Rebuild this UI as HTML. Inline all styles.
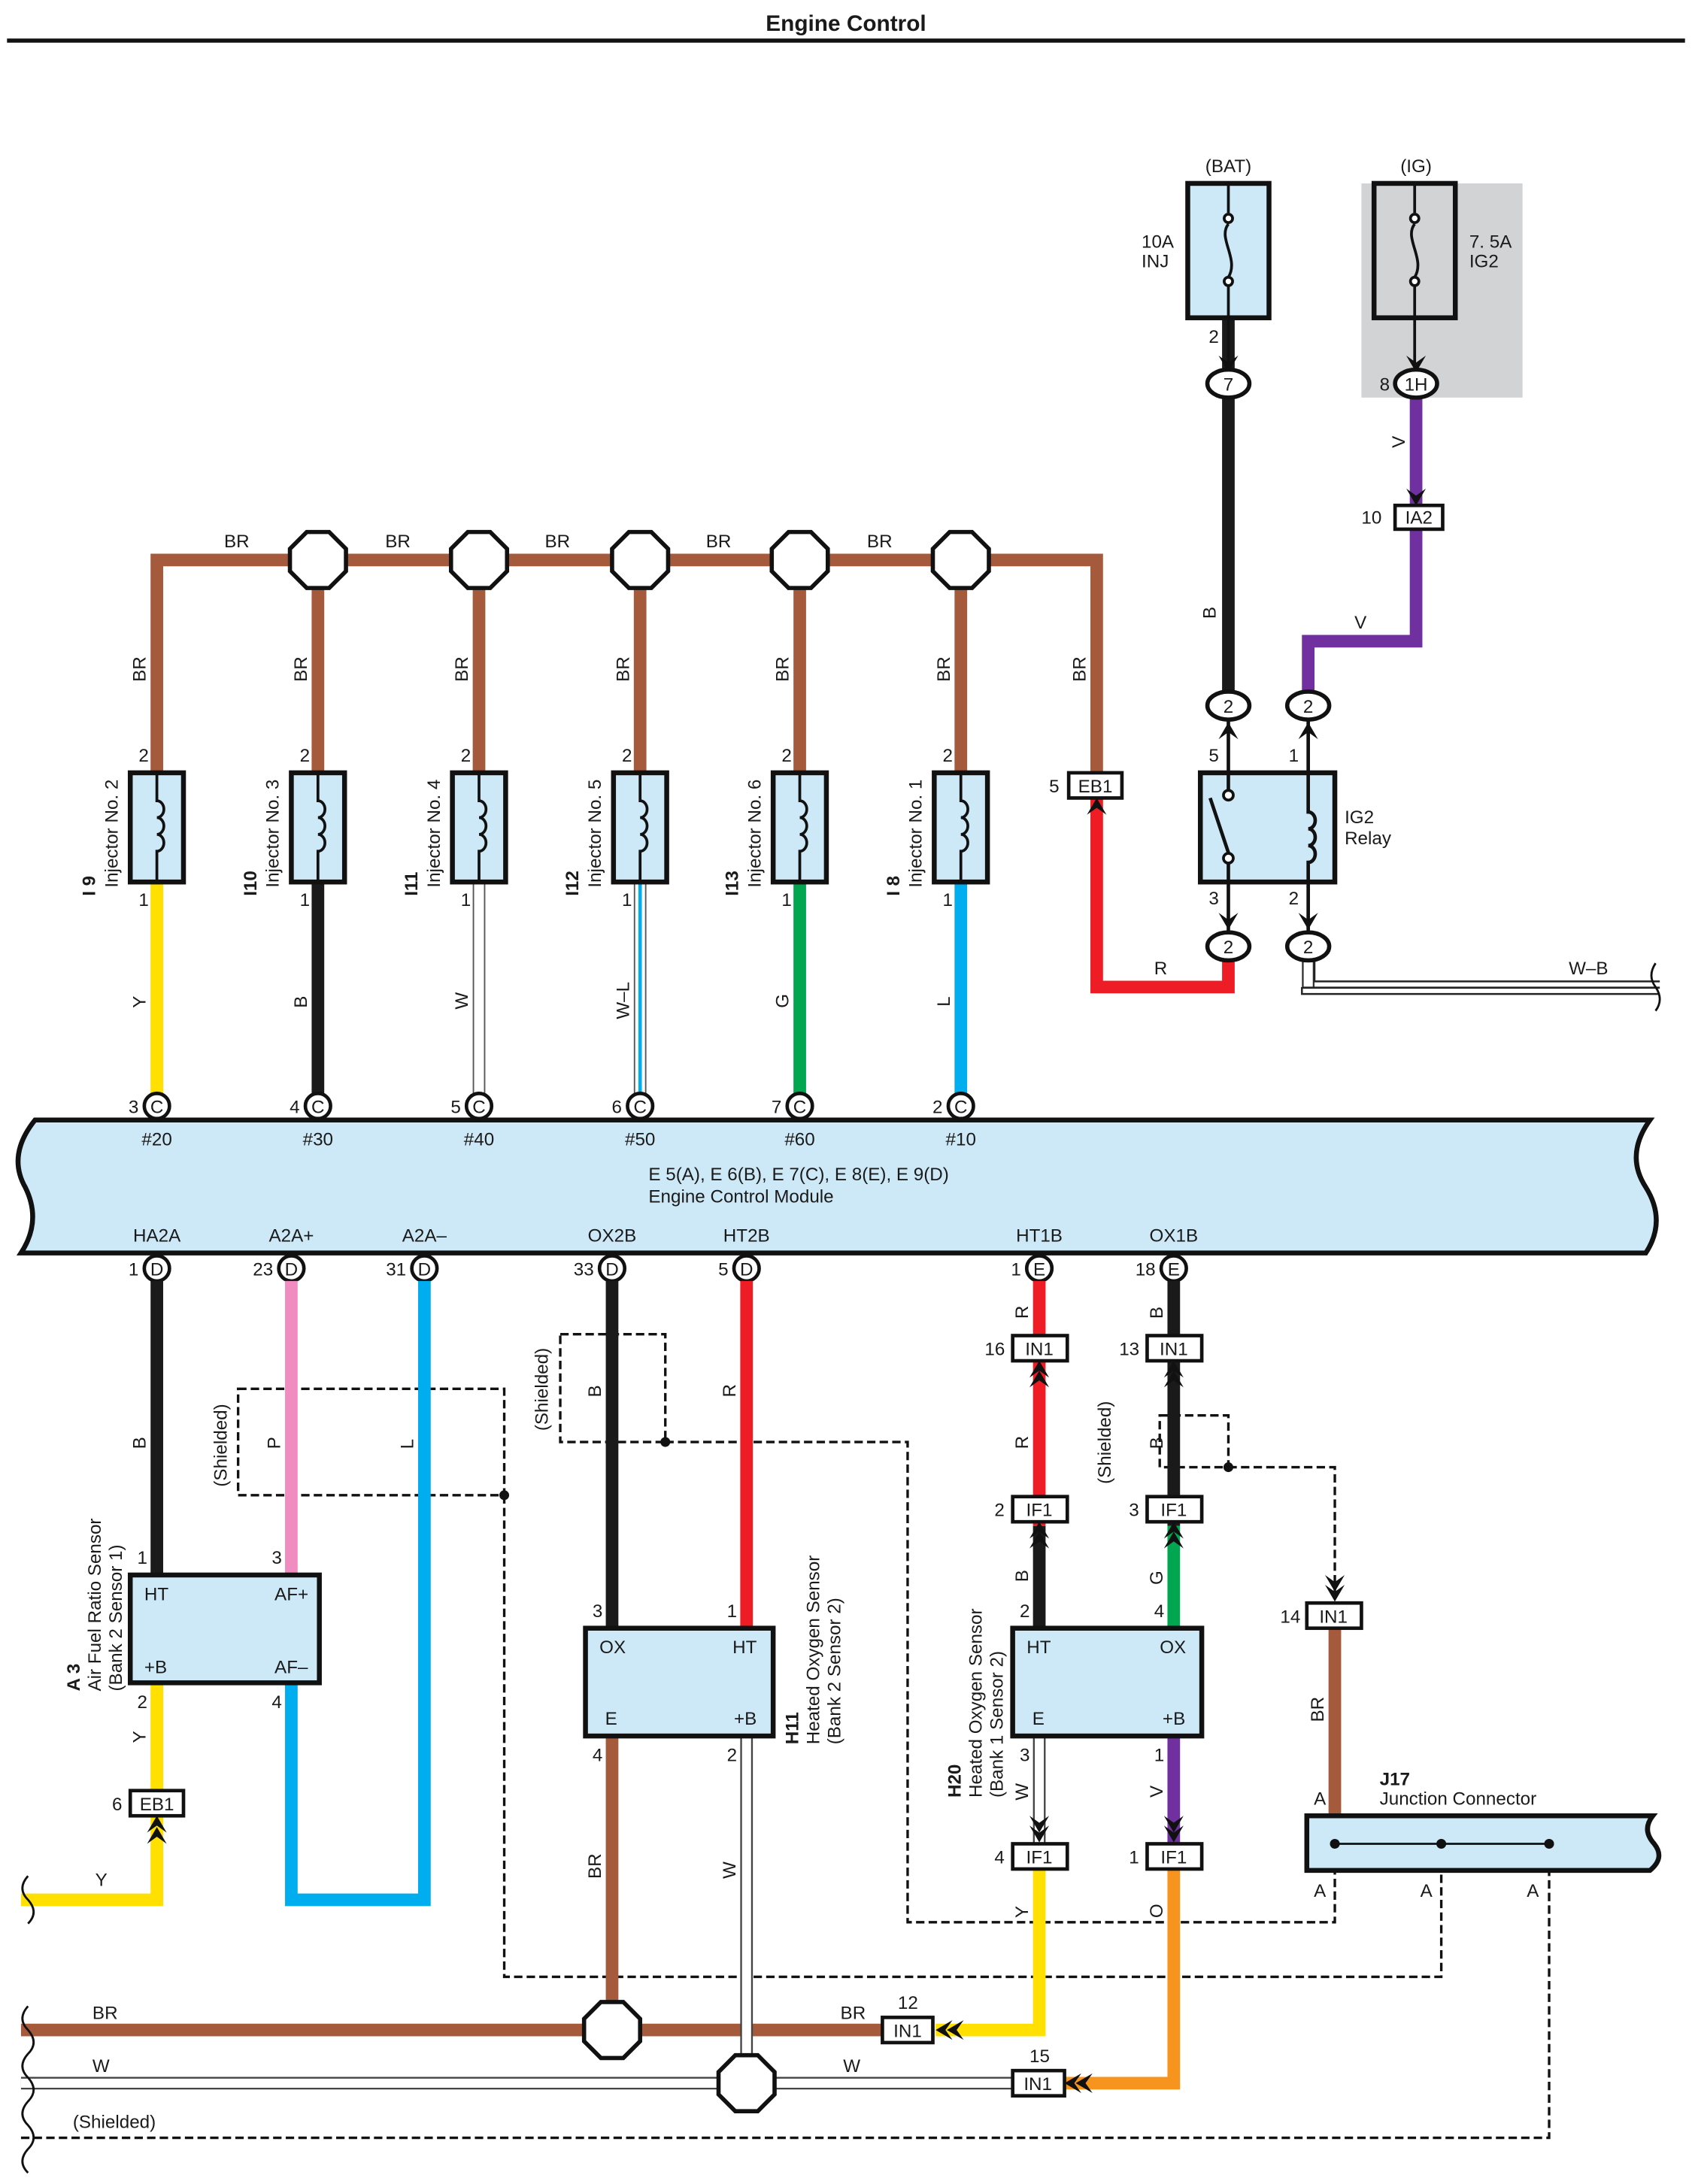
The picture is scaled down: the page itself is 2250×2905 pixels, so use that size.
<!DOCTYPE html>
<html><head><meta charset="utf-8"><style>
html,body{margin:0;padding:0;background:#fff}
svg{display:block}
text{font-family:"Liberation Sans",sans-serif;font-size:13px;fill:#1a1a1a}
</style></head><body>
<svg width="2250" height="2905" viewBox="0 0 1208 1560" preserveAspectRatio="none" xmlns="http://www.w3.org/2000/svg">
<defs>
<polygon id="cu" points="-7,12 0,0 7,12 0,7" fill="#111"/>
<polygon id="cd" points="-7,-12 0,0 7,-12 0,-7" fill="#111"/>
</defs>
<text x="604" y="22" text-anchor="middle" style="font-weight:bold;font-size:16px">Engine Control</text>
<line x1="5" y1="29" x2="1203" y2="29" stroke="#111" stroke-width="3"/>

<!-- grey IG background -->
<rect x="972" y="131" width="115" height="153" fill="#d1d3d4"/>

<!-- BR bus -->
<g stroke="#a65a3c" stroke-width="9" fill="none">
<polyline points="112,552 112,400 783,400 783,552"/>
<line x1="227" y1="400" x2="227" y2="552"/><line x1="342" y1="400" x2="342" y2="552"/>
<line x1="457" y1="400" x2="457" y2="552"/><line x1="571" y1="400" x2="571" y2="552"/>
<line x1="686" y1="400" x2="686" y2="552"/>
</g>
<g fill="#fff" stroke="#111" stroke-width="3">
<polygon points="219,380 235,380 247,392 247,408 235,420 219,420 207,408 207,392"/>
<polygon points="334,380 350,380 362,392 362,408 350,420 334,420 322,408 322,392"/>
<polygon points="449,380 465,380 477,392 477,408 465,420 449,420 437,408 437,392"/>
<polygon points="563,380 579,380 591,392 591,408 579,420 563,420 551,408 551,392"/>
<polygon points="678,380 694,380 706,392 706,408 694,420 678,420 666,408 666,392"/>
</g>
<g>
<text x="160" y="391">BR</text><text x="275" y="391">BR</text><text x="389" y="391">BR</text><text x="504" y="391">BR</text><text x="619" y="391">BR</text>
<text transform="translate(104,487) rotate(-90)">BR</text><text transform="translate(219,487) rotate(-90)">BR</text>
<text transform="translate(334,487) rotate(-90)">BR</text><text transform="translate(449,487) rotate(-90)">BR</text>
<text transform="translate(563,487) rotate(-90)">BR</text><text transform="translate(678,487) rotate(-90)">BR</text>
<text transform="translate(775,487) rotate(-90)">BR</text>
</g>

<!-- injector wires to ECM -->
<line x1="112" y1="630" x2="112" y2="790" stroke="#ffe000" stroke-width="9"/>
<line x1="227" y1="630" x2="227" y2="790" stroke="#1a1a1a" stroke-width="9"/>
<line x1="342" y1="630" x2="342" y2="790" stroke="#555" stroke-width="9"/><line x1="342" y1="630" x2="342" y2="790" stroke="#fff" stroke-width="7"/>
<line x1="457" y1="630" x2="457" y2="790" stroke="#555" stroke-width="9"/><line x1="457" y1="630" x2="457" y2="790" stroke="#fff" stroke-width="7"/><line x1="457" y1="630" x2="457" y2="790" stroke="#00aeef" stroke-width="2.5"/>
<line x1="571" y1="630" x2="571" y2="790" stroke="#00a650" stroke-width="9"/>
<line x1="686" y1="630" x2="686" y2="790" stroke="#00aeef" stroke-width="9"/>
<g>
<text transform="translate(104,720) rotate(-90)">Y</text><text transform="translate(219,720) rotate(-90)">B</text>
<text transform="translate(334,721) rotate(-90)">W</text><text transform="translate(449,728) rotate(-90)">W–L</text>
<text transform="translate(563,720) rotate(-90)">G</text><text transform="translate(678,719) rotate(-90)">L</text>
</g>

<!-- injectors -->
<g fill="#cde9f7" stroke="#111" stroke-width="3.5">
<rect x="93" y="552" width="38" height="78"/><rect x="208" y="552" width="38" height="78"/>
<rect x="323" y="552" width="38" height="78"/><rect x="438" y="552" width="38" height="78"/>
<rect x="552" y="552" width="38" height="78"/><rect x="667" y="552" width="38" height="78"/>
</g>
<g fill="none" stroke="#111" stroke-width="2">
<path d="M112 552 V572 a5 6 0 1 1 0 12 a5 6 0 1 1 0 12 a5 6 0 1 1 0 12 V630"/>
<path d="M227 552 V572 a5 6 0 1 1 0 12 a5 6 0 1 1 0 12 a5 6 0 1 1 0 12 V630"/>
<path d="M342 552 V572 a5 6 0 1 1 0 12 a5 6 0 1 1 0 12 a5 6 0 1 1 0 12 V630"/>
<path d="M457 552 V572 a5 6 0 1 1 0 12 a5 6 0 1 1 0 12 a5 6 0 1 1 0 12 V630"/>
<path d="M571 552 V572 a5 6 0 1 1 0 12 a5 6 0 1 1 0 12 a5 6 0 1 1 0 12 V630"/>
<path d="M686 552 V572 a5 6 0 1 1 0 12 a5 6 0 1 1 0 12 a5 6 0 1 1 0 12 V630"/>
</g>
<g>
<text x="99" y="544">2</text><text x="214" y="544">2</text><text x="329" y="544">2</text><text x="444" y="544">2</text><text x="558" y="544">2</text><text x="673" y="544">2</text>
<text x="99" y="647">1</text><text x="214" y="647">1</text><text x="329" y="647">1</text><text x="444" y="647">1</text><text x="558" y="647">1</text><text x="673" y="647">1</text>
<text transform="translate(68,640) rotate(-90)" style="font-weight:bold">I 9</text><text transform="translate(84,634) rotate(-90)">Injector No. 2</text>
<text transform="translate(183,640) rotate(-90)" style="font-weight:bold">I10</text><text transform="translate(199,634) rotate(-90)">Injector No. 3</text>
<text transform="translate(298,640) rotate(-90)" style="font-weight:bold">I11</text><text transform="translate(314,634) rotate(-90)">Injector No. 4</text>
<text transform="translate(413,640) rotate(-90)" style="font-weight:bold">I12</text><text transform="translate(429,634) rotate(-90)">Injector No. 5</text>
<text transform="translate(527,640) rotate(-90)" style="font-weight:bold">I13</text><text transform="translate(543,634) rotate(-90)">Injector No. 6</text>
<text transform="translate(642,640) rotate(-90)" style="font-weight:bold">I 8</text><text transform="translate(658,634) rotate(-90)">Injector No. 1</text>
</g>

<!-- ECM -->
<path d="M25,800 H1178 Q1160,825 1175,848 Q1190,872 1175,895 H15 Q30,872 18,848 Q5,825 25,800 Z" fill="#cde9f7" stroke="#111" stroke-width="3.5"/>
<g fill="#fff" stroke="#111" stroke-width="2.5">
<circle cx="112" cy="790" r="9"/><circle cx="227" cy="790" r="9"/><circle cx="342" cy="790" r="9"/><circle cx="457" cy="790" r="9"/><circle cx="571" cy="790" r="9"/><circle cx="686" cy="790" r="9"/>
<circle cx="112" cy="906" r="9"/><circle cx="208" cy="906" r="9"/><circle cx="303" cy="906" r="9"/><circle cx="437" cy="906" r="9"/><circle cx="533" cy="906" r="9"/><circle cx="742" cy="906" r="9"/><circle cx="838" cy="906" r="9"/>
</g>
<g text-anchor="middle" style="font-size:12px">
<text x="112" y="795">C</text><text x="227" y="795">C</text><text x="342" y="795">C</text><text x="457" y="795">C</text><text x="571" y="795">C</text><text x="686" y="795">C</text>
<text x="112" y="911">D</text><text x="208" y="911">D</text><text x="303" y="911">D</text><text x="437" y="911">D</text><text x="533" y="911">D</text><text x="742" y="911">E</text><text x="838" y="911">E</text>
</g>
<g text-anchor="end">
<text x="99" y="795">3</text><text x="214" y="795">4</text><text x="329" y="795">5</text><text x="444" y="795">6</text><text x="558" y="795">7</text><text x="673" y="795">2</text>
<text x="99" y="911">1</text><text x="195" y="911">23</text><text x="290" y="911">31</text><text x="424" y="911">33</text><text x="520" y="911">5</text><text x="729" y="911">1</text><text x="825" y="911">18</text>
</g>
<g text-anchor="middle">
<text x="112" y="818">#20</text><text x="227" y="818">#30</text><text x="342" y="818">#40</text><text x="457" y="818">#50</text><text x="571" y="818">#60</text><text x="686" y="818">#10</text>
<text x="112" y="887">HA2A</text><text x="208" y="887">A2A+</text><text x="303" y="887">A2A–</text><text x="437" y="887">OX2B</text><text x="533" y="887">HT2B</text><text x="742" y="887">HT1B</text><text x="838" y="887">OX1B</text>
</g>
<text x="463" y="843">E 5(A), E 6(B), E 7(C), E 8(E), E 9(D)</text>
<text x="463" y="859">Engine Control Module</text>

<!-- BAT fuse -->
<text x="877" y="123" text-anchor="middle">(BAT)</text>
<text x="1011" y="123" text-anchor="middle">(IG)</text>
<line x1="877" y1="227" x2="877" y2="504" stroke="#1a1a1a" stroke-width="9"/>
<rect x="848" y="131" width="58" height="96" fill="#cde9f7" stroke="#111" stroke-width="3.5"/>
<rect x="981" y="131" width="58" height="96" fill="#d1d3d4" stroke="#111" stroke-width="3.5"/>
<g fill="none" stroke="#111" stroke-width="2">
<path d="M877 131 V152 M877 204 V227 M877 160 c-8 10 8 25 0 38"/>
<path d="M877 227 V262"/>
<path d="M1010 131 V152 M1010 204 V227 M1010 160 c-8 10 8 25 0 38"/>
<path d="M1010 227 V262"/>
</g>
<g fill="#fff" stroke="#111" stroke-width="2"><circle cx="877" cy="156" r="3"/><circle cx="877" cy="201" r="3"/><circle cx="1010" cy="156" r="3"/><circle cx="1010" cy="201" r="3"/></g>
<use href="#cd" x="877" y="266"/><use href="#cd" x="1011" y="266"/>
<text x="815" y="177">10A</text><text x="815" y="191">INJ</text>
<text x="1049" y="177">7. 5A</text><text x="1049" y="191">IG2</text>
<text x="863" y="245">2</text><text x="985" y="279">8</text>
<polyline points="1011,284 1011,458 934,458 934,504" fill="none" stroke="#7030a0" stroke-width="9"/>
<use href="#cd" x="1011" y="361"/>
<rect x="996" y="361" width="34" height="17" fill="#fff" stroke="#111" stroke-width="2.5"/>
<text x="1013" y="374" text-anchor="middle">IA2</text><text x="972" y="374">10</text>
<text transform="translate(1003,320) rotate(-90)">V</text><text x="967" y="449">V</text>
<text transform="translate(868,442) rotate(-90)">B</text>
<ellipse cx="877" cy="274" rx="15" ry="10" fill="#fff" stroke="#111" stroke-width="3"/><text x="877" y="279" text-anchor="middle">7</text>
<ellipse cx="1011" cy="274" rx="15" ry="10" fill="#fff" stroke="#111" stroke-width="3"/><text x="1011" y="279" text-anchor="middle">1H</text>

<!-- relay -->
<polyline points="877,676 877,705 783,705 783,561" fill="none" stroke="#ee1c25" stroke-width="9"/>
<line x1="934" y1="676" x2="934" y2="705" stroke="#333" stroke-width="9"/><line x1="934" y1="676" x2="934" y2="705" stroke="#fff" stroke-width="6.5"/>
<path d="M929.5 705 V710 H1185 M938.5 676 V701 H1185" stroke="#222" stroke-width="1.3" fill="none"/>
<line x1="930" y1="705.5" x2="1185" y2="705.5" stroke="#222" stroke-width="1.5"/>
<path d="M1182 688 q-6 9 0 17 q6 9 0 17" fill="none" stroke="#111" stroke-width="1.5"/>
<text x="1120" y="696">W–B</text><text x="824" y="696">R</text>
<g stroke="#111" stroke-width="2.5" fill="none">
<line x1="877" y1="514" x2="877" y2="666"/><line x1="934" y1="514" x2="934" y2="666"/>
</g>
<use href="#cu" x="877" y="516"/><use href="#cu" x="934" y="516"/>
<use href="#cd" x="877" y="664"/><use href="#cd" x="934" y="664"/>
<rect x="857" y="552" width="96" height="78" fill="#cde9f7" stroke="#111" stroke-width="3.5"/>
<g stroke="#111" stroke-width="2.5" fill="none">
<line x1="877" y1="552" x2="877" y2="565"/><line x1="877" y1="615" x2="877" y2="630"/>
<line x1="864" y1="570" x2="878" y2="612"/>
<path d="M934 552 V580 a5 6 0 1 1 0 12 a5 6 0 1 1 0 12 a5 6 0 1 1 0 12 V630"/>
</g>
<g fill="#fff" stroke="#111" stroke-width="2"><circle cx="877" cy="568" r="3.5"/><circle cx="877" cy="613" r="3.5"/></g>
<text x="960" y="588">IG2</text><text x="960" y="603">Relay</text>
<text x="863" y="544">5</text><text x="920" y="544">1</text><text x="863" y="646">3</text><text x="920" y="646">2</text>
<g fill="#fff" stroke="#111" stroke-width="3">
<ellipse cx="877" cy="504" rx="15" ry="10"/><ellipse cx="934" cy="504" rx="15" ry="10"/>
<ellipse cx="877" cy="676" rx="15" ry="10"/><ellipse cx="934" cy="676" rx="15" ry="10"/>
</g>
<g text-anchor="middle"><text x="877" y="509">2</text><text x="934" y="509">2</text><text x="877" y="681">2</text><text x="934" y="681">2</text></g>
<use href="#cu" x="783" y="570"/>
<rect x="763" y="552" width="38" height="18" fill="#fff" stroke="#111" stroke-width="2.5"/>
<text x="782" y="566" text-anchor="middle">EB1</text><text x="749" y="566">5</text>

<!-- lower dashed shield lines -->
<g fill="none" stroke="#111" stroke-width="1.8" stroke-dasharray="6,3">
<rect x="170" y="992" width="190" height="76"/>
<polyline points="360,1068 360,1412 1029,1412 1029,1317"/>
<rect x="400" y="953" width="75" height="77"/>
<polyline points="475,1030 648,1030 648,1373 953,1373 953,1317"/>
<rect x="828" y="1011" width="49" height="37"/>
<polyline points="877,1048 953,1048 953,1140"/>
<polyline points="15,1527 1106,1527 1106,1317"/>
</g>
<g fill="#111"><circle cx="360" cy="1068" r="3.5"/><circle cx="475" cy="1030" r="3.5"/><circle cx="877" cy="1048" r="3.5"/></g>
<text transform="translate(162,1062) rotate(-90)">(Shielded)</text>
<text transform="translate(391,1022) rotate(-90)">(Shielded)</text>
<text transform="translate(793,1060) rotate(-90)">(Shielded)</text>
<text x="52" y="1520">(Shielded)</text>

<!-- A3 wires -->
<line x1="112" y1="915" x2="112" y2="1125" stroke="#1a1a1a" stroke-width="9"/>
<line x1="208" y1="915" x2="208" y2="1125" stroke="#f08cbf" stroke-width="9"/>
<polyline points="303,915 303,1357 208,1357 208,1202" fill="none" stroke="#00aeef" stroke-width="9"/>
<polyline points="112,1202 112,1357 15,1357" fill="none" stroke="#ffe000" stroke-width="9"/>
<path d="M20 1340 q-8 9 0 17 q8 9 0 17" fill="none" stroke="#111" stroke-width="1.5"/>
<text x="68" y="1347">Y</text>
<text transform="translate(104,1035) rotate(-90)">B</text><text transform="translate(200,1035) rotate(-90)">P</text>
<text transform="translate(295,1035) rotate(-90)">L</text><text transform="translate(104,1245) rotate(-90)">Y</text>
<use href="#cu" x="112" y="1297"/><use href="#cu" x="112" y="1305"/>
<rect x="93" y="1279" width="38" height="18" fill="#fff" stroke="#111" stroke-width="2.5"/>
<text x="112" y="1293" text-anchor="middle">EB1</text><text x="80" y="1293">6</text>
<rect x="93" y="1125" width="135" height="77" fill="#cde9f7" stroke="#111" stroke-width="3.5"/>
<text x="103" y="1143">HT</text><text x="196" y="1143">AF+</text><text x="103" y="1195">+B</text><text x="196" y="1195">AF–</text>
<text x="98" y="1117">1</text><text x="194" y="1117">3</text><text x="98" y="1220">2</text><text x="194" y="1220">4</text>
<text transform="translate(57,1208) rotate(-90)" style="font-weight:bold">A 3</text>
<text transform="translate(72,1208) rotate(-90)">Air Fuel Ratio Sensor</text>
<text transform="translate(87,1208) rotate(-90)">(Bank 2 Sensor 1)</text>

<!-- H11 -->
<line x1="437" y1="915" x2="437" y2="1163" stroke="#1a1a1a" stroke-width="9"/>
<line x1="533" y1="915" x2="533" y2="1163" stroke="#ee1c25" stroke-width="9"/>
<text transform="translate(429,998) rotate(-90)">B</text><text transform="translate(525,998) rotate(-90)">R</text>
<polyline points="15,1450 630,1450" stroke="#a65a3c" stroke-width="9" fill="none"/>
<line x1="437" y1="1240" x2="437" y2="1450" stroke="#a65a3c" stroke-width="9"/>
<line x1="533" y1="1240" x2="533" y2="1488" stroke="#444" stroke-width="9"/><line x1="533" y1="1240" x2="533" y2="1488" stroke="#fff" stroke-width="6.5"/>
<line x1="15" y1="1488" x2="723" y2="1488" stroke="#444" stroke-width="9"/><line x1="15" y1="1488" x2="723" y2="1488" stroke="#fff" stroke-width="6.5"/>
<g fill="none" stroke="#111" stroke-width="1.5">
<path d="M20 1433 q-8 9 0 17 q8 9 0 17 q-8 9 0 17 q8 9 0 17 q-8 9 0 17 q8 9 0 17 q-8 9 0 17"/>
</g>
<text x="66" y="1442">BR</text><text x="600" y="1442">BR</text><text x="66" y="1480">W</text><text x="602" y="1480">W</text>
<text transform="translate(429,1342) rotate(-90)">BR</text><text transform="translate(525,1342) rotate(-90)">W</text>
<g fill="#fff" stroke="#111" stroke-width="3">
<polygon points="429,1430 445,1430 457,1442 457,1458 445,1470 429,1470 417,1458 417,1442"/>
<polygon points="525,1468 541,1468 553,1480 553,1496 541,1508 525,1508 513,1496 513,1480"/>
</g>
<rect x="418" y="1163" width="134" height="77" fill="#cde9f7" stroke="#111" stroke-width="3.5"/>
<text x="428" y="1181">OX</text><text x="523" y="1181">HT</text><text x="432" y="1232">E</text><text x="524" y="1232">+B</text>
<text x="423" y="1155">3</text><text x="519" y="1155">1</text><text x="423" y="1258">4</text><text x="519" y="1258">2</text>
<text transform="translate(570,1246) rotate(-90)" style="font-weight:bold">H11</text>
<text transform="translate(585,1246) rotate(-90)">Heated Oxygen Sensor</text>
<text transform="translate(600,1246) rotate(-90)">(Bank 2 Sensor 2)</text>

<!-- H20 -->
<line x1="742" y1="915" x2="742" y2="1090" stroke="#ee1c25" stroke-width="9"/>
<line x1="742" y1="1090" x2="742" y2="1163" stroke="#1a1a1a" stroke-width="9"/>
<line x1="838" y1="915" x2="838" y2="1090" stroke="#1a1a1a" stroke-width="9"/>
<line x1="838" y1="1090" x2="838" y2="1163" stroke="#00a650" stroke-width="9"/>
<line x1="742" y1="1240" x2="742" y2="1318" stroke="#444" stroke-width="9"/><line x1="742" y1="1240" x2="742" y2="1318" stroke="#fff" stroke-width="6.5"/>
<line x1="838" y1="1240" x2="838" y2="1318" stroke="#7030a0" stroke-width="9"/>
<polyline points="742,1334 742,1450 668,1450" fill="none" stroke="#ffe000" stroke-width="9"/>
<polyline points="838,1334 838,1488 760,1488" fill="none" stroke="#f7941d" stroke-width="9"/>
<line x1="953" y1="1162" x2="953" y2="1297" stroke="#a65a3c" stroke-width="9"/>
<g>
<use href="#cu" x="742" y="972"/><use href="#cu" x="742" y="979"/>
<use href="#cu" x="838" y="972"/><use href="#cu" x="838" y="979"/>
<use href="#cu" x="742" y="1087"/><use href="#cu" x="742" y="1094"/>
<use href="#cu" x="838" y="1087"/><use href="#cu" x="838" y="1094"/>
<use href="#cd" x="742" y="1316"/><use href="#cd" x="742" y="1309"/>
<use href="#cd" x="838" y="1316"/><use href="#cd" x="838" y="1309"/>
<use href="#cd" x="953" y="1144"/><use href="#cd" x="953" y="1137"/>
<polygon points="680,1443 668,1450 680,1457 675,1450" fill="#111"/><polygon points="688,1443 676,1450 688,1457 683,1450" fill="#111"/>
<polygon points="772,1481 760,1488 772,1495 767,1488" fill="#111"/><polygon points="780,1481 768,1488 780,1495 775,1488" fill="#111"/>
</g>
<g fill="#fff" stroke="#111" stroke-width="2.5">
<rect x="723" y="954" width="39" height="18"/><rect x="819" y="954" width="39" height="18"/>
<rect x="723" y="1069" width="39" height="18"/><rect x="819" y="1069" width="39" height="18"/>
<rect x="723" y="1317" width="39" height="18"/><rect x="819" y="1317" width="39" height="18"/>
<rect x="933" y="1145" width="39" height="18"/>
<rect x="630" y="1441" width="36" height="18"/><rect x="723" y="1479" width="37" height="18"/>
</g>
<g text-anchor="middle">
<text x="742" y="968">IN1</text><text x="838" y="968">IN1</text><text x="742" y="1083">IF1</text><text x="838" y="1083">IF1</text>
<text x="742" y="1331">IF1</text><text x="838" y="1331">IF1</text><text x="952" y="1159">IN1</text>
<text x="648" y="1455">IN1</text><text x="741" y="1493">IN1</text>
</g>
<text x="703" y="968">16</text><text x="799" y="968">13</text><text x="710" y="1083">2</text><text x="806" y="1083">3</text>
<text x="710" y="1331">4</text><text x="806" y="1331">1</text><text x="914" y="1159">14</text>
<text x="641" y="1435">12</text><text x="735" y="1473">15</text>
<g>
<text transform="translate(734,942) rotate(-90)">R</text><text transform="translate(830,942) rotate(-90)">B</text>
<text transform="translate(734,1035) rotate(-90)">R</text><text transform="translate(830,1035) rotate(-90)">B</text>
<text transform="translate(734,1130) rotate(-90)">B</text><text transform="translate(830,1132) rotate(-90)">G</text>
<text transform="translate(734,1286) rotate(-90)">W</text><text transform="translate(830,1284) rotate(-90)">V</text>
<text transform="translate(734,1370) rotate(-90)">Y</text><text transform="translate(830,1370) rotate(-90)">O</text>
<text transform="translate(945,1230) rotate(-90)">BR</text>
</g>
<rect x="723" y="1163" width="135" height="77" fill="#cde9f7" stroke="#111" stroke-width="3.5"/>
<text x="733" y="1181">HT</text><text x="828" y="1181">OX</text><text x="737" y="1232">E</text><text x="830" y="1232">+B</text>
<text x="728" y="1155">2</text><text x="824" y="1155">4</text><text x="728" y="1258">3</text><text x="824" y="1258">1</text>
<text transform="translate(686,1284) rotate(-90)" style="font-weight:bold">H20</text>
<text transform="translate(701,1284) rotate(-90)">Heated Oxygen Sensor</text>
<text transform="translate(716,1284) rotate(-90)">(Bank 1 Sensor 2)</text>

<!-- J17 -->
<path d="M933,1297 H1180 q-8,10 1,20 q8,10 -3,19 H933 Z" fill="#cde9f7" stroke="#111" stroke-width="3.5"/>
<line x1="953" y1="1317" x2="1106" y2="1317" stroke="#111" stroke-width="1.5"/>
<g fill="#111"><circle cx="953" cy="1317" r="3.5"/><circle cx="1029" cy="1317" r="3.5"/><circle cx="1106" cy="1317" r="3.5"/></g>
<text x="985" y="1275" style="font-weight:bold">J17</text><text x="985" y="1289">Junction Connector</text>
<text x="938" y="1289">A</text><text x="938" y="1355">A</text><text x="1014" y="1355">A</text><text x="1090" y="1355">A</text>
</svg>
</body></html>
